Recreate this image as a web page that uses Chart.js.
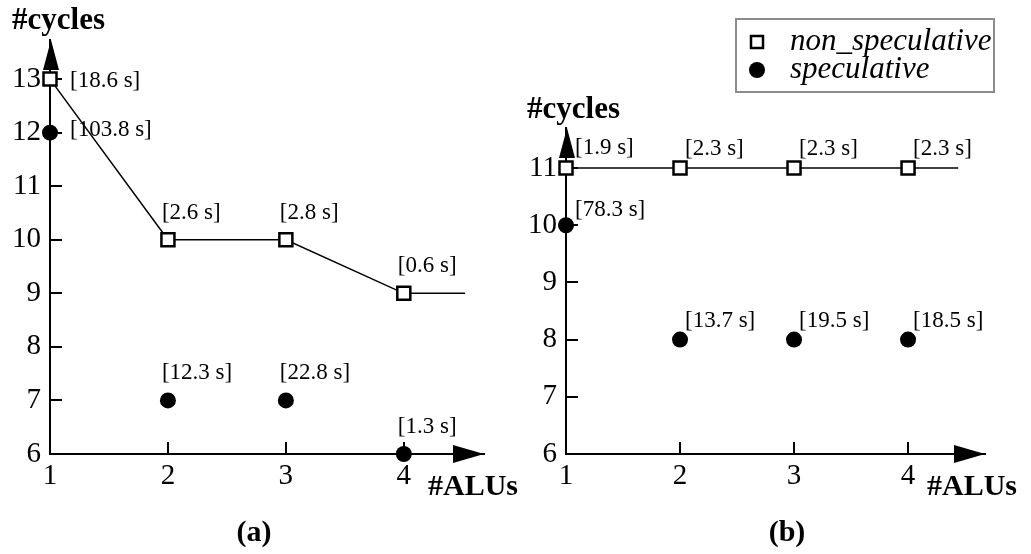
<!DOCTYPE html>
<html>
<head>
<meta charset="utf-8">
<script src="https://cdn.jsdelivr.net/npm/chart.js@4/dist/chart.umd.min.js"></script>
<style>
  html, body { margin: 0; padding: 0; background: #fff; }
  #wrap { position: relative; width: 1031px; height: 554px; overflow: hidden; }
  canvas { position: absolute; top: 0; }
  #cycA { left: 0; }
  #cycB { left: 515px; }
</style>
</head>
<body>
<div id="wrap">
  <canvas id="cycA" width="560" height="554"></canvas>
  <canvas id="cycB" width="516" height="554"></canvas>
</div>
<script>
// ---- data ----
const aluCounts = [1, 2, 3, 4];
const aluTicks = [1, 2, 3, 4];
const cycleTicksA = [6, 7, 8, 9, 10, 11, 12, 13];
const cycleTicksB = [6, 7, 8, 9, 10, 11];
const seriesNames = ['non_speculative', 'speculative'];

// panel (a)
const nonSpecCyclesA = [13, 10, 10, 9];
const specCyclesA = [12, 7, 7, 6];
const nonSpecSecondsA = [18.6, 2.6, 2.8, 0.6];
const specSecondsA = [103.8, 12.3, 22.8, 1.3];
const nonSpecTailA = 4.52;   // the non-speculative line continues past 4 ALUs

// panel (b)
const nonSpecCyclesB = [11, 11, 11, 11];
const specCyclesB = [10, 8, 8, 8];
const nonSpecSecondsB = [1.9, 2.3, 2.3, 2.3];
const specSecondsB = [78.3, 13.7, 19.5, 18.5];
const nonSpecTailB = 4.44;

// ---- drawing ----
const SERIF = '"Liberation Serif", "Times New Roman", Times, serif';

function secondsLabel(v) { return '[' + v.toFixed(1) + ' s]'; }

function decorPlugin(p) {
  return {
    id: 'decor',
    beforeDatasetsDraw(chart) {
      // tick marks pointing into the plot
      const ctx = chart.ctx, xs = chart.scales.x, ys = chart.scales.y;
      const area = chart.chartArea;
      ctx.save();
      ctx.strokeStyle = '#000';
      ctx.lineWidth = 2;
      ctx.beginPath();
      ys.ticks.forEach(t => {
        if (t.value === ys.min) return;
        const py = Math.round(ys.getPixelForValue(t.value));
        ctx.moveTo(area.left, py);
        ctx.lineTo(area.left + 12, py);
      });
      xs.ticks.forEach(t => {
        if (t.value === xs.min) return;
        const px = Math.round(xs.getPixelForValue(t.value));
        ctx.moveTo(px, area.bottom);
        ctx.lineTo(px, area.bottom - 12);
      });
      ctx.stroke();
      ctx.restore();
    },
    afterDatasetsDraw(chart) {
      // run-time labels next to each point
      const ctx = chart.ctx;
      ctx.save();
      ctx.fillStyle = '#000';
      ctx.font = '23px ' + SERIF;
      ctx.textAlign = 'left';
      ctx.textBaseline = 'middle';
      chart.data.datasets.forEach((ds, di) => {
        const meta = chart.getDatasetMeta(di);
        ds.seconds.forEach((s, i) => {
          const el = meta.data[i];
          const first = ds.data[i].x === aluCounts[0];
          const off = first ? p.firstLabel[di] : p.otherLabel;
          ctx.fillText(secondsLabel(s), el.x + off.dx, el.y + off.dy);
        });
      });
      ctx.restore();
    },
    afterDraw(chart) {
      const ctx = chart.ctx, area = chart.chartArea;
      ctx.save();
      ctx.fillStyle = '#000';
      // arrow heads on both axes
      const ax = area.left + 1, ay = area.bottom;
      ctx.beginPath();
      ctx.moveTo(ax, area.top);
      ctx.lineTo(ax - 8, area.top + 30);
      ctx.lineTo(ax + 8, area.top + 30);
      ctx.closePath();
      ctx.fill();
      ctx.beginPath();
      ctx.moveTo(area.right, ay);
      ctx.lineTo(area.right - 31, ay - 9);
      ctx.lineTo(area.right - 31, ay + 9);
      ctx.closePath();
      ctx.fill();

      // axis titles and panel tag
      ctx.textBaseline = 'alphabetic';
      ctx.font = 'bold 31px ' + SERIF;
      ctx.textAlign = 'left';
      ctx.fillText('#cycles', p.yTitle.x, p.yTitle.y);
      ctx.font = 'bold 30px ' + SERIF;
      ctx.fillText('#ALUs', p.xTitle.x, p.xTitle.y);
      ctx.textAlign = 'center';
      ctx.fillText(p.tag, p.tagPos.x, p.tagPos.y);

      // legend box
      if (p.legend) {
        const L = p.legend;
        ctx.strokeStyle = '#8c8c8c';
        ctx.lineWidth = 2;
        ctx.strokeRect(L.x, L.y, L.w, L.h);
        ctx.font = 'italic 31px ' + SERIF;
        ctx.textAlign = 'left';
        chart.data.datasets.forEach((ds, di) => {
          const cy = L.rows[di];
          if (ds.pointStyle === 'rect') {
            ctx.fillStyle = '#fff';
            ctx.fillRect(L.mx - 6, cy - 6, 12, 12);
            ctx.strokeStyle = '#000';
            ctx.lineWidth = 2.5;
            ctx.strokeRect(L.mx - 6, cy - 6, 12, 12);
          } else {
            ctx.fillStyle = '#000';
            ctx.beginPath();
            ctx.arc(L.mx, cy, 8, 0, Math.PI * 2);
            ctx.fill();
          }
          ctx.fillStyle = '#000';
          ctx.fillText(ds.label, L.tx, cy + L.baseShift);
        });
      }
      ctx.restore();
    }
  };
}

function makePanel(canvasId, p) {
  const canvas = document.getElementById(canvasId);
  const W = canvas.width, H = canvas.height;
  const nonData = aluCounts.map((x, i) => ({ x: x, y: p.nonSpec[i] }));
  nonData.push({ x: p.tail, y: p.nonSpec[p.nonSpec.length - 1] });
  const specData = aluCounts.map((x, i) => ({ x: x, y: p.spec[i] }));
  const tickFont = { family: SERIF, size: 29 };

  return new Chart(canvas, {
    type: 'scatter',
    data: {
      datasets: [
        {
          label: seriesNames[0],
          data: nonData,
          seconds: p.nonSeconds,
          showLine: true,
          clip: false,
          tension: 0,
          borderColor: '#000',
          borderWidth: 1.5,
          pointStyle: 'rect',
          pointRadius: c => (c.dataIndex < aluCounts.length ? 9.2 : 0),
          pointBackgroundColor: '#fff',
          pointBorderColor: '#000',
          pointBorderWidth: 2.5
        },
        {
          label: seriesNames[1],
          data: specData,
          seconds: p.specSeconds,
          showLine: false,
          clip: false,
          pointStyle: 'circle',
          pointRadius: 8,
          pointBackgroundColor: '#000',
          pointBorderColor: '#000',
          pointBorderWidth: 0
        }
      ]
    },
    options: {
      responsive: false,
      animation: false,
      devicePixelRatio: 1,
      events: [],
      layout: { padding: { left: 0, top: p.area.top, right: W - p.area.right, bottom: 0 } },
      plugins: { legend: { display: false }, tooltip: { enabled: false } },
      scales: {
        x: {
          type: 'linear',
          min: 1,
          max: p.xMax,
          afterBuildTicks: s => { s.ticks = aluTicks.map(v => ({ value: v })); },
          afterFit: s => { s.height = H - p.area.bottom; },
          grid: { drawOnChartArea: false, drawTicks: false },
          border: { color: '#000', width: 2 },
          ticks: { font: tickFont, color: '#000', padding: 5, maxRotation: 0, autoSkip: false }
        },
        y: {
          type: 'linear',
          min: 6,
          max: p.yMax,
          afterBuildTicks: s => { s.ticks = p.yTicks.map(v => ({ value: v })); },
          afterFit: s => { s.width = p.area.left; },
          grid: { drawOnChartArea: false, drawTicks: false },
          border: { color: '#000', width: 2 },
          ticks: { font: tickFont, color: '#000', padding: 9, autoSkip: false }
        }
      }
    },
    plugins: [decorPlugin(p)]
  });
}

makePanel('cycA', {
  nonSpec: nonSpecCyclesA, spec: specCyclesA,
  nonSeconds: nonSpecSecondsA, specSeconds: specSecondsA,
  tail: nonSpecTailA, yTicks: cycleTicksA,
  xMax: 4.68, yMax: 13.73,
  area: { left: 50, top: 40, right: 484, bottom: 454 },
  firstLabel: [{ dx: 20, dy: 2 }, { dx: 20, dy: -3 }],
  otherLabel: { dx: -6, dy: -27 },
  yTitle: { x: 12, y: 29 }, xTitle: { x: 428, y: 495 },
  tag: '(a)', tagPos: { x: 254, y: 541 },
  legend: null
});

makePanel('cycB', {
  nonSpec: nonSpecCyclesB, spec: specCyclesB,
  nonSeconds: nonSpecSecondsB, specSeconds: specSecondsB,
  tail: nonSpecTailB, yTicks: cycleTicksB,
  xMax: 4.675, yMax: 11.7,
  area: { left: 51, top: 128, right: 470, bottom: 454 },
  firstLabel: [{ dx: 9, dy: -20 }, { dx: 9, dy: -15 }],
  otherLabel: { dx: 5, dy: -19 },
  yTitle: { x: 12, y: 118 }, xTitle: { x: 412, y: 495 },
  tag: '(b)', tagPos: { x: 272, y: 541 },
  legend: { x: 221, y: 19, w: 258, h: 73, mx: 242, tx: 275, rows: [42, 70], baseShift: 8 }
});
</script>
</body>
</html>
